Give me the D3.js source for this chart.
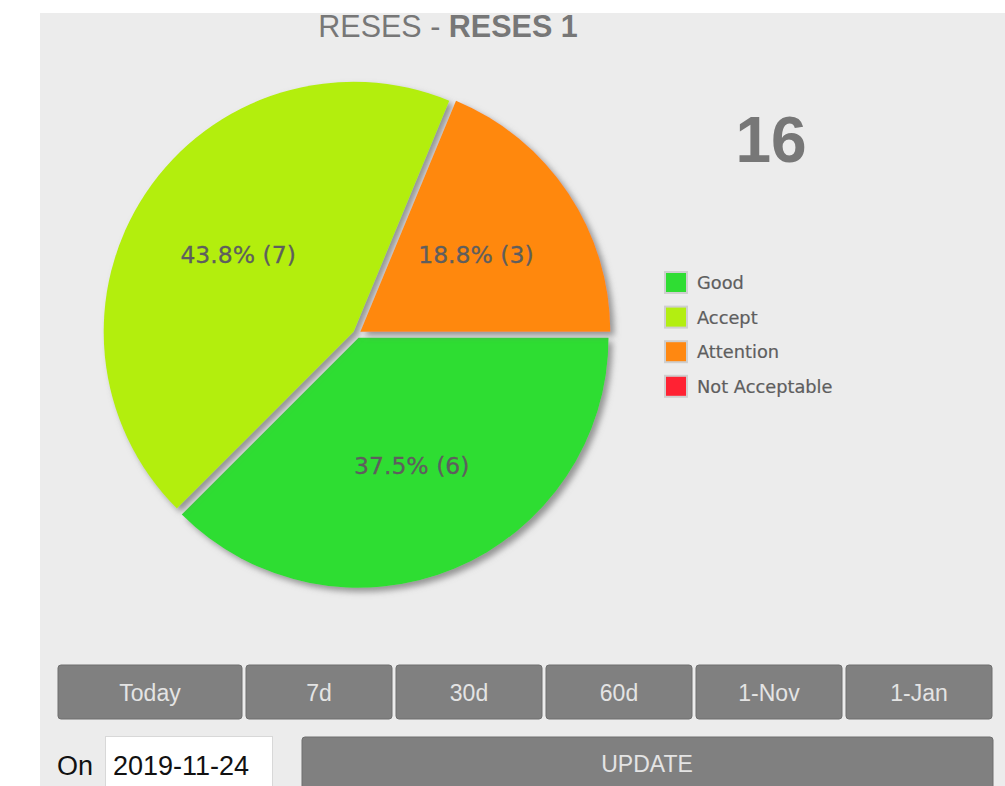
<!DOCTYPE html>
<html>
<head>
<meta charset="utf-8">
<script src="https://cdn.jsdelivr.net/npm/d3@7"></script>
<style>
  body { margin: 0; background: #fff; }
  svg { display: block; }
</style>
</head>
<body>
<svg id="chart" width="1005" height="786"></svg>
<script>
// data
const categories = ["Good", "Accept", "Attention", "Not Acceptable"];
const counts = [6, 7, 3, 0];
const colors = ["#2fdd33", "#b3ee11", "#ff8811", "#ff2233"];
const buttons = ["Today", "7d", "30d", "60d", "1-Nov", "1-Jan"];
const titleParts = ["RESES - ", "RESES 1"];
const dateValue = "2019-11-24";

const total = d3.sum(counts);
let data = categories.map((c, i) => ({name: c, value: counts[i], color: colors[i]}));

let svg = d3.select('#chart');

// gray panel
svg.append('rect')
    .attr('x', 40).attr('y', 13)
    .attr('width', 965).attr('height', 773)
    .attr('fill', '#ececec');

let defs = svg.append('defs');
let filter = defs.append('filter')
    .attr('id', 'shadow')
    .attr('x', '-10%').attr('y', '-10%')
    .attr('width', '130%').attr('height', '130%');
filter.append('feDropShadow')
    .attr('dx', 4).attr('dy', 4)
    .attr('stdDeviation', 3)
    .attr('flood-color', '#777')
    .attr('flood-opacity', 0.75);

// title
let title = svg.append('text')
    .attr('x', 448).attr('y', 37)
    .attr('text-anchor', 'middle')
    .style('font-family', 'Liberation Sans, Arial, sans-serif')
    .style('font-size', '30.5px')
    .attr('fill', '#777');
title.append('tspan').text(titleParts[0]);
title.append('tspan').attr('font-weight', 'bold').text(titleParts[1]);

// pie
let cx = 357, cy = 334, radius = 250, offset = 4;

let pie = d3.pie()
    .sort(null)
    .value(d => d.value)
    .startAngle(Math.PI / 2)
    .endAngle(Math.PI / 2 + 2 * Math.PI);

let arc = d3.arc().innerRadius(0).outerRadius(radius);
let labelArc = d3.arc().innerRadius(143).outerRadius(143);

let arcs = pie(data).filter(d => d.value > 0);

let g = svg.append('g')
    .attr('transform', "translate(" + cx + "," + cy + ")");

function shift(d){
    let mid = (d.startAngle + d.endAngle) / 2;
    return "translate(" + (offset * Math.sin(mid)) + "," + (-offset * Math.cos(mid)) + ")";
}

g.selectAll('.slice')
    .data(arcs)
    .enter().append('path')
    .attr('class', 'slice')
    .attr('d', arc)
    .attr('transform', shift)
    .attr('fill', d => d.data.color)
    .attr('filter', 'url(#shadow)');

let pct = d3.format(".1%");
g.selectAll('.label')
    .data(arcs)
    .enter().append('text')
    .attr('class', 'label')
    .attr('transform', d => {
        let c = labelArc.centroid(d);
        return "translate(" + c[0] + "," + (c[1] + 8) + ")";
    })
    .attr('text-anchor', 'middle')
    .style('font-family', 'DejaVu Sans, Verdana, sans-serif')
    .style('font-size', '23.5px')
    .attr('fill', '#5e5e5e')
    .attr('stroke', '#5e5e5e')
    .attr('stroke-width', 0.3)
    .text(d => pct(d.value / total) + " (" + d.value + ")");

// total
svg.append('text')
    .attr('x', 771).attr('y', 162)
    .attr('text-anchor', 'middle')
    .style('font-family', 'Liberation Sans, Arial, sans-serif')
    .style('font-size', '64px')
    .style('font-weight', 'bold')
    .attr('fill', '#777')
    .text(total);

// legend
let legend = svg.append('g')
    .attr('transform', "translate(665,272)");
let row = legend.selectAll('.row')
    .data(data)
    .enter().append('g')
    .attr('class', 'row')
    .attr('transform', (d, i) => "translate(0," + (i * 34.6) + ")");
row.append('rect')
    .attr('x', 0).attr('y', 0)
    .attr('width', 22).attr('height', 21)
    .attr('fill', d => d.color)
    .attr('stroke', '#cfcfcf')
    .attr('stroke-width', 2);
row.append('text')
    .attr('x', 32).attr('y', 17)
    .style('font-family', 'DejaVu Sans, Verdana, sans-serif')
    .style('font-size', '17.8px')
    .attr('fill', '#5e5e5e')
    .attr('stroke', '#5e5e5e')
    .attr('stroke-width', 0.2)
    .text(d => d.name);

// range buttons
let btnX = [58];
let firstW = 184, otherW = 146, gap = 4;
let btnW = buttons.map((b, i) => i === 0 ? firstW : otherW);
for (let i = 1; i < buttons.length; i++){
    btnX.push(btnX[i - 1] + btnW[i - 1] + gap);
}
let btn = svg.selectAll('.btn')
    .data(buttons)
    .enter().append('g')
    .attr('class', 'btn')
    .attr('transform', (d, i) => "translate(" + btnX[i] + ",665)");
btn.append('rect')
    .attr('width', (d, i) => btnW[i])
    .attr('height', 54)
    .attr('rx', 3)
    .attr('fill', '#808080')
    .attr('stroke', '#6f6f6f')
    .attr('stroke-width', 1);
btn.append('text')
    .attr('x', (d, i) => btnW[i] / 2)
    .attr('y', 36)
    .attr('text-anchor', 'middle')
    .style('font-family', 'Liberation Sans, Arial, sans-serif')
    .style('font-size', '23px')
    .attr('fill', '#e4e4e4')
    .text(d => d);

// date row
svg.append('text')
    .attr('x', 57).attr('y', 775)
    .style('font-family', 'Liberation Sans, Arial, sans-serif')
    .style('font-size', '27px')
    .attr('fill', '#111')
    .text("On");
svg.append('rect')
    .attr('x', 105.5).attr('y', 736.5)
    .attr('width', 167).attr('height', 60)
    .attr('fill', '#fff')
    .attr('stroke', '#d8d8d8');
svg.append('text')
    .attr('x', 113).attr('y', 775)
    .style('font-family', 'Liberation Sans, Arial, sans-serif')
    .style('font-size', '27px')
    .attr('fill', '#111')
    .text(dateValue);

svg.append('rect')
    .attr('x', 302).attr('y', 737)
    .attr('width', 691).attr('height', 60)
    .attr('rx', 3)
    .attr('fill', '#808080')
    .attr('stroke', '#6f6f6f');
svg.append('text')
    .attr('x', 647).attr('y', 772)
    .attr('text-anchor', 'middle')
    .style('font-family', 'Liberation Sans, Arial, sans-serif')
    .style('font-size', '23px')
    .attr('fill', '#e4e4e4')
    .text("UPDATE");
</script>
</body>
</html>
